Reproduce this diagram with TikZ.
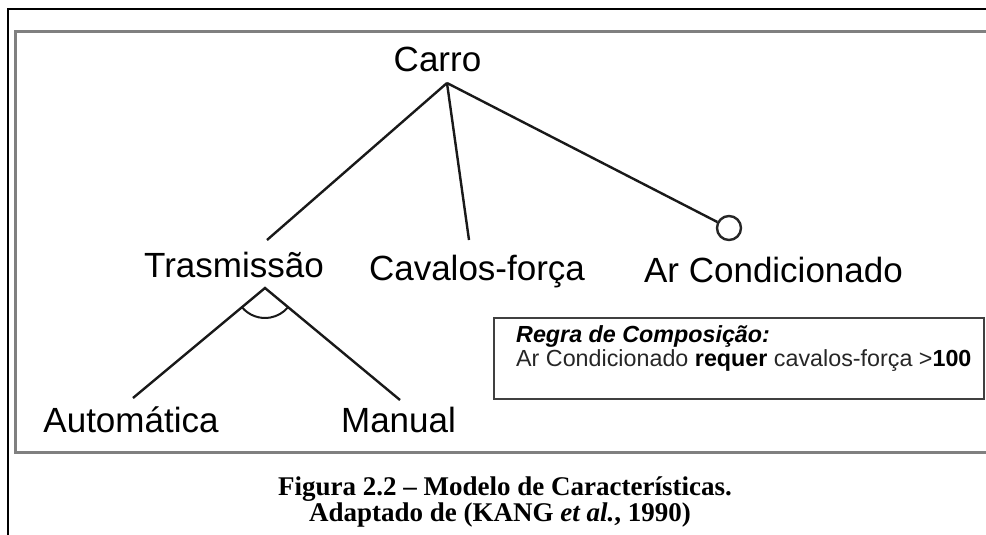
\documentclass[tikz,border=0pt]{standalone}
\usepackage{fontspec}
\usepackage{graphicx}
\setmainfont{Liberation Serif}
\newfontfamily\arial{Liberation Sans}
\begin{document}
\begin{tikzpicture}[x=1pt,y=-1pt,
  feat/.style={font=\arial\fontsize{35}{40}\selectfont, inner sep=0pt, anchor=base},
  link/.style={line width=2.4pt, draw=black!90},
  rtext/.style={font=\arial\fontsize{23.3}{26}\selectfont, inner sep=0pt, anchor=base west, text=black!85},
  captext/.style={font=\fontsize{27}{30}\selectfont\bfseries, inner sep=0pt, anchor=base},
  ]
\useasboundingbox (0,0) rectangle (986,535);
\fill[white] (0,0) rectangle (986,535);
% frames
\draw[line width=2.4pt] (8,536) -- (8,9) -- (987,9);
\draw[line width=3pt, draw=black!50] (988,32) -- (15,32) -- (15,452) -- (988,452);
% features
\node[feat] (carro) at (437.5,72) {Carro};
\node[feat] (trans) at (234,277) {Trasmissão};
\node[feat] (cav) at (477,280) {Cavalos-força};
\node[feat] (ar) at (773.5,282) {Ar Condicionado};
\node[feat] (auto) at (131,432) {Automática};
\node[feat] (man) at (398.5,432) {Manual};
% attachment points
\coordinate (cApex) at (447,83);
\coordinate (tIn) at (267,240);
\coordinate (cvIn) at (469,240);
\node[circle, draw=black!85, line width=2.4pt, minimum size=24pt, inner sep=0pt] (opt) at (729,228) {};
\coordinate (tApex) at (265,288);
\coordinate (aIn) at (133,398);
\coordinate (mIn) at (400,400);
% connectors
\draw[link] (cApex) -- (tIn);
\draw[link] (cApex) -- (cvIn);
\draw[link] (cApex) -- (opt);
\draw[link] (aIn) -- (tApex) -- (mIn);
\draw[link, line width=2pt] (tApex) ++(220:30pt) arc[start angle=220, end angle=320, radius=30pt];
% composition rule
\node[draw=black!75, line width=2.4pt, minimum width=490pt, minimum height=81pt, anchor=north west, inner sep=0pt] (rule) at (493,317) {};
\node[rtext, text=black] (r1) at (516,342) {\bfseries\itshape Regra de Composição:};
\node[rtext] (r2) at (516,366) {Ar Condicionado \textbf{\color{black}requer} cavalos-força >\textbf{\color{black}100}};
% caption
\node[captext] (cap1) at (505,495) {Figura 2.2 – Modelo de Características.};
\node[captext] (cap2) at (500,521) {Adaptado de (KANG \textit{et al.}, 1990)};
\end{tikzpicture}
\end{document}
